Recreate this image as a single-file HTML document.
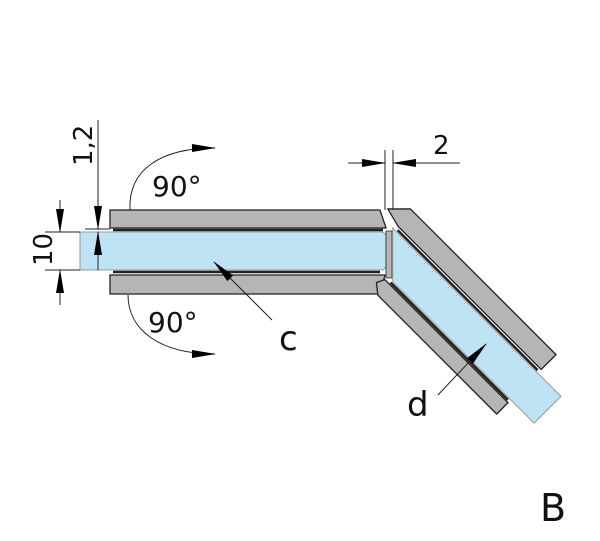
<!DOCTYPE html>
<html><head><style>body{margin:0;background:#fff}svg{display:block}text{font-family:"DejaVu Sans","Liberation Sans",sans-serif;fill:#111}</style></head><body>
<svg width="600" height="541" viewBox="0 0 600 541">
<defs><marker id="a" markerWidth="24" markerHeight="10" refX="23" refY="5" orient="auto" markerUnits="userSpaceOnUse"><path d="M0,1 L24,5 L0,9 Z" fill="#000"/></marker></defs>
<g stroke="#222" stroke-width="1.3">
<!-- left glass -->
<polygon points="80,232 383,232 386,235 386,267 383,270 80,270" fill="#bde3f4" stroke="#999" stroke-width="1"/>
<line x1="113" y1="230" x2="383" y2="230" stroke-width="2.5"/>
<line x1="113" y1="272" x2="380" y2="272" stroke-width="2.5"/>
<polygon points="110,210 380,210 386,228 110,228" fill="#b5b5b5"/>
<polygon points="110,275 385,275 380,294 110,294" fill="#b5b5b5"/>
<!-- joint -->
<polygon points="386,231 392,231 392,278 386,278" fill="#b5b5b5" stroke-width="0.8"/>
<g transform="translate(392,233) rotate(45)">
<polygon points="-3,-4 235,-4 235,34 35,34" fill="#bde3f4" stroke="#999" stroke-width="1"/>
<line x1="2" y1="-6" x2="200" y2="-6" stroke-width="2.5"/>
<line x1="34" y1="36" x2="200" y2="36" stroke-width="2.5"/>
<polygon points="-4,-30 202,-30 202,-9 0,-9 -20,-14" fill="#b5b5b5"/>
<polygon points="28,38 202,38 202,54 34,54 24,46" fill="#b5b5b5"/>
</g>
</g>
<g stroke="#222" stroke-width="1" fill="none">
<line x1="45" y1="232" x2="80" y2="232"/><line x1="45" y1="270" x2="80" y2="270"/>
<line x1="60" y1="200" x2="60" y2="232" marker-end="url(#a)"/>
<line x1="60" y1="305" x2="60" y2="270" marker-end="url(#a)"/>
<line x1="85" y1="229" x2="110" y2="229"/>
<line x1="98" y1="120" x2="98" y2="229" marker-end="url(#a)"/>
<line x1="98" y1="270" x2="98" y2="232" marker-end="url(#a)"/>
<path d="M130,210 C128,170 160,148 215,148" marker-end="url(#a)"/>
<path d="M128,295 C128,330 160,354 215,354" marker-end="url(#a)"/>
<line x1="385" y1="150" x2="385" y2="210"/><line x1="393" y1="150" x2="393" y2="210"/>
<line x1="348" y1="163" x2="385" y2="163" marker-end="url(#a)"/>
<line x1="460" y1="163" x2="393" y2="163" marker-end="url(#a)"/>
<line x1="272" y1="320" x2="214" y2="262" marker-end="url(#a)"/>
<line x1="438" y1="395" x2="486" y2="344" marker-end="url(#a)"/>
</g>
<text x="0" y="0" font-size="26" transform="translate(52,266) rotate(-90)">10</text>
<text x="0" y="0" font-size="26" transform="translate(92,166) rotate(-90)">1,2</text>
<text x="152" y="196" font-size="28">90°</text>
<text x="148" y="332" font-size="28">90°</text>
<text x="279" y="350" font-size="34">c</text>
<text x="407" y="416" font-size="34">d</text>
<text x="433" y="154" font-size="26">2</text>
<text x="540" y="521" font-size="38">B</text>
</svg>
</body></html>
